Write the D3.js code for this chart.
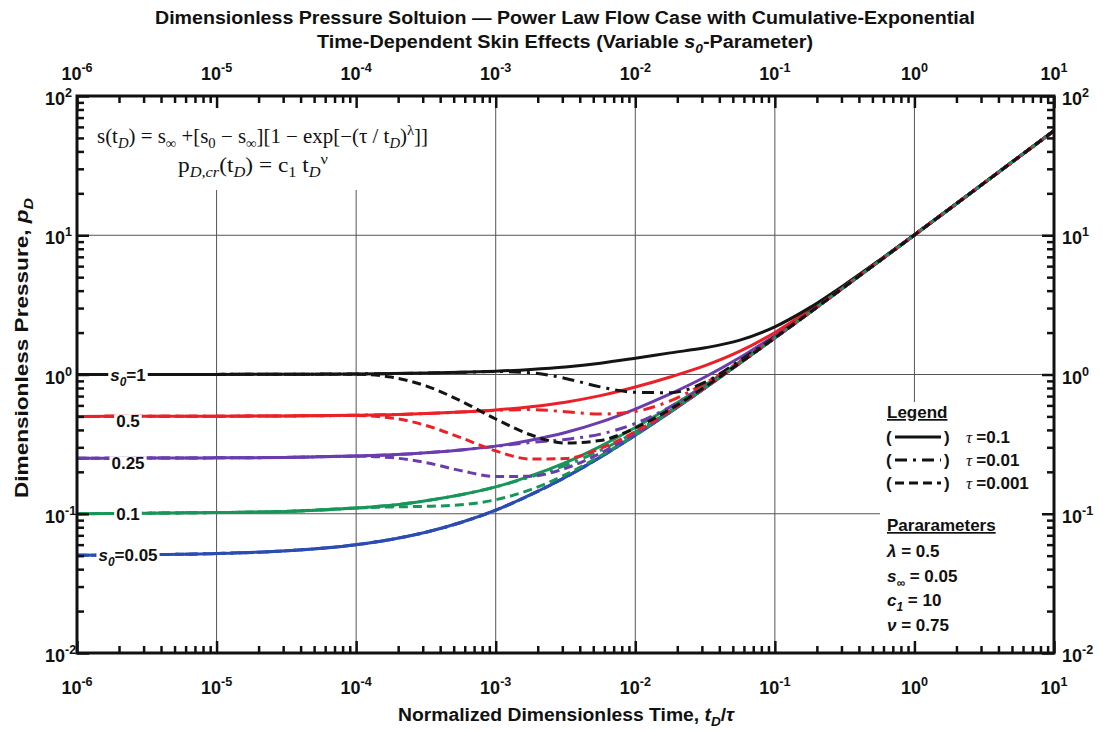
<!DOCTYPE html>
<html>
<head>
<meta charset="utf-8">
<script src="https://cdn.jsdelivr.net/npm/d3@7"></script>
<style>
    body { margin: 0; background: #fff; }
    svg text { font-family: "Liberation Sans Narrow", "Arial Narrow", "Liberation Sans", Arial, sans-serif; font-weight: bold; fill: #111; }
    svg text.serif { font-family: "Liberation Serif", "Times New Roman", serif; font-weight: normal; }
</style>
</head>
<body>
<svg id="chart" width="1103" height="730"></svg>
<script>
//sample points of t_D / tau (x axis)
const tD = [1e-6, 3.16e-6, 1e-5, 3.16e-5, 1e-4, 1.78e-4, 3.16e-4, 5.62e-4, 1e-3, 1.78e-3, 3.16e-3, 5.62e-3,
    1e-2, 1.78e-2, 3.16e-2, 5.62e-2, 0.1, 0.178, 0.316, 0.562, 1, 1.78, 3.16, 5.62, 10]

//s0 = 0.05 (same for every tau)
const pBlue = [0.0503, 0.0508, 0.0518, 0.0542, 0.060, 0.0654, 0.0737, 0.0865, 0.106, 0.137, 0.183, 0.255,
    0.366, 0.537, 0.80, 1.21, 1.83, 2.79, 4.27, 6.54, 10.05, 15.45, 23.76, 36.57, 56.28]

//s0 = 1
const pBlackSolid = [1.0, 1.001, 1.002, 1.004, 1.01, 1.015, 1.024, 1.037, 1.056, 1.087, 1.133, 1.205,
    1.309, 1.43, 1.554, 1.765, 2.2, 3.02, 4.41, 6.63, 10.1, 15.48, 23.79, 36.59, 56.29]
const pBlackDashDot = [1.0, 1.001, 1.002, 1.004, 1.01, 1.015, 1.024, 1.037, 1.05, 1.03, 0.937, 0.815,
    0.745, 0.74, 0.88, 1.26, 1.86, 2.81, 4.28, 6.55, 10.05, 15.45, 23.76, 36.57, 56.28]
const pBlackDash = [1.0, 1.001, 1.002, 1.004, 1.004, 0.958, 0.828, 0.646, 0.479, 0.369, 0.322, 0.336,
    0.413, 0.563, 0.815, 1.213, 1.833, 2.79, 4.27, 6.54, 10.05, 15.45, 23.76, 36.57, 56.28]

//s0 = 0.5
const pRedSolid = [0.5, 0.501, 0.502, 0.504, 0.51, 0.515, 0.524, 0.537, 0.556, 0.587, 0.633, 0.705,
    0.813, 0.96, 1.157, 1.47, 2.005, 2.9, 4.33, 6.58, 10.07, 15.46, 23.77, 36.57, 56.28]
const pRedDashDot = [0.5, 0.501, 0.502, 0.504, 0.51, 0.515, 0.524, 0.537, 0.553, 0.56, 0.54, 0.52,
    0.543, 0.647, 0.866, 1.243, 1.85, 2.8, 4.27, 6.55, 10.05, 15.45, 23.76, 36.57, 56.28]
const pRedDash = [0.5, 0.501, 0.502, 0.504, 0.507, 0.488, 0.431, 0.352, 0.283, 0.247, 0.249, 0.294,
    0.388, 0.55, 0.807, 1.209, 1.83, 2.79, 4.27, 6.54, 10.05, 15.45, 23.76, 36.57, 56.28]

//s0 = 0.25
const pPurpleSolid = [0.25, 0.251, 0.252, 0.254, 0.26, 0.265, 0.274, 0.287, 0.306, 0.337, 0.383, 0.455,
    0.565, 0.725, 0.959, 1.323, 1.907, 2.84, 4.3, 6.56, 10.06, 15.46, 23.76, 36.57, 56.28]
const pPurpleDashDot = [0.25, 0.251, 0.252, 0.254, 0.26, 0.265, 0.274, 0.287, 0.305, 0.325, 0.342, 0.373,
    0.445, 0.586, 0.829, 1.222, 1.838, 2.79, 4.27, 6.55, 10.05, 15.45, 23.76, 36.57, 56.28]
const pPurpleDash = [0.25, 0.251, 0.252, 0.254, 0.259, 0.253, 0.233, 0.204, 0.185, 0.186, 0.212, 0.272,
    0.376, 0.543, 0.803, 1.207, 1.829, 2.79, 4.27, 6.54, 10.05, 15.45, 23.76, 36.57, 56.28]

//s0 = 0.1
const pGreenSolid = [0.1, 0.101, 0.102, 0.104, 0.11, 0.115, 0.124, 0.137, 0.156, 0.187, 0.233, 0.305,
    0.416, 0.584, 0.84, 1.234, 1.848, 2.8, 4.27, 6.55, 10.05, 15.45, 23.76, 36.57, 56.28]
const pGreenDashDot = [0.1, 0.101, 0.102, 0.104, 0.11, 0.115, 0.124, 0.137, 0.156, 0.184, 0.223, 0.285,
    0.386, 0.549, 0.807, 1.209, 1.83, 2.79, 4.27, 6.54, 10.05, 15.45, 23.76, 36.57, 56.28]
const pGreenDash = [0.1, 0.101, 0.102, 0.104, 0.11, 0.112, 0.113, 0.116, 0.126, 0.149, 0.191, 0.26,
    0.369, 0.54, 0.801, 1.206, 1.829, 2.79, 4.27, 6.54, 10.05, 15.45, 23.76, 36.57, 56.28]

//axis decades (exponents for the labels)
const xExponents = [-6, -5, -4, -3, -2, -1, 0, 1]
const yExponents = [-2, -1, 0, 1, 2]
const tauValues = ["0.1", "0.01", "0.001"]
const curveLabels = ["=1", "0.5", "0.25", "0.1", "=0.05"]
const paramLines = [["λ", "", " = 0.5"], ["s", "∞", " = 0.05"], ["c", "1", " = 10"], ["ν", "", " = 0.75"]]

const colors = {black: "#141414", red: "#ec2027", purple: "#6a3cae", green: "#17965a", blue: "#2b4db3"}
const dashes = {"0.1": null, "0.01": "12 6 3 6", "0.001": "9 5"}

const series = [
    {color: "blue", tau: "0.1", values: pBlue},
    {color: "green", tau: "0.1", values: pGreenSolid},
    {color: "purple", tau: "0.1", values: pPurpleSolid},
    {color: "red", tau: "0.1", values: pRedSolid},
    {color: "black", tau: "0.1", values: pBlackSolid},
    {color: "blue", tau: "0.01", values: pBlue},
    {color: "green", tau: "0.01", values: pGreenDashDot},
    {color: "purple", tau: "0.01", values: pPurpleDashDot},
    {color: "red", tau: "0.01", values: pRedDashDot},
    {color: "black", tau: "0.01", values: pBlackDashDot},
    {color: "blue", tau: "0.001", values: pBlue},
    {color: "green", tau: "0.001", values: pGreenDash},
    {color: "purple", tau: "0.001", values: pPurpleDash},
    {color: "red", tau: "0.001", values: pRedDash},
    {color: "black", tau: "0.001", values: pBlackDash}
]

const svg = d3.select("#chart")
const margin = {top: 96, right: 49, bottom: 77, left: 77}
const width = 1103 - margin.left - margin.right
const height = 730 - margin.top - margin.bottom

const x = d3.scaleLog().domain([1e-6, 10]).range([margin.left, margin.left + width])
const y = d3.scaleLog().domain([0.01, 100]).range([margin.top + height, margin.top])

const xMajor = xExponents.map(e => Math.pow(10, e))
const yMajor = yExponents.map(e => Math.pow(10, e))
const minorOf = majors => majors.slice(0, -1).flatMap(d => d3.range(2, 10).map(k => k * d))

//writes text pieces with sub / superscripts into a text element
//(empty pieces are skipped, chrome ignores dy on an empty tspan)
function rich(text, parts) {
    let shift = 0
    parts.filter(p => p[0] !== "").forEach(p => {
        const [str, kind, italic] = p
        const target = kind === "sub" ? 5 : kind === "sup" ? -8 : 0
        const ts = text.append("tspan").text(str).attr("dy", target - shift)
        if (kind) ts.style("font-size", "0.7em")
        if (italic) ts.style("font-style", "italic")
        shift = target
    })
    return text
}

//grid lines
const grid = svg.append("g").attr("stroke", "#555").attr("stroke-width", 1)
xMajor.slice(1, -1).forEach(v => {
    let top = y(100), bottom = y(0.01)
    if (v < 1e-3) top = margin.top + 94   //below the equations
    if (v === 1) bottom = margin.top + 306  //stops above the legend
    grid.append("line").attr("x1", x(v)).attr("x2", x(v)).attr("y1", top).attr("y2", bottom)
})
yMajor.slice(1, -1).forEach(v => {
    const right = v < 1 ? margin.left + 803 : x(10)
    grid.append("line").attr("x1", x(1e-6)).attr("x2", right).attr("y1", y(v)).attr("y2", y(v))
})

//curves
const line = d3.line()
    .x((d, i) => x(tD[i]))
    .y(d => y(d))
    .curve(d3.curveMonotoneX)

svg.append("g")
    .attr("fill", "none")
    .selectAll("path")
    .data(series)
    .enter()
    .append("path")
    .attr("d", d => line(d.values))
    .attr("stroke", d => colors[d.color])
    .attr("stroke-width", 3)
    .attr("stroke-dasharray", d => dashes[d.tau])

//curve labels with a white box behind them
const labelSeries = [pBlackSolid, pRedSolid, pPurpleSolid, pGreenSolid, pBlue]
const labelShift = [0, 5, 5, 0, 0]
labelSeries.forEach((vals, i) => {
    const g = svg.append("g")
    const t = g.append("text")
        .attr("x", margin.left + 51)
        .attr("y", y(vals[0]) + labelShift[i] + 6)
        .attr("text-anchor", "middle")
        .style("font-size", "17px")
    if (curveLabels[i].startsWith("=")) {
        rich(t, [["s", "", true], ["0", "sub", true], [curveLabels[i], ""]])
    } else {
        t.text(curveLabels[i])
    }
    const b = t.node().getBBox()
    g.insert("rect", "text")
        .attr("x", b.x - 2).attr("y", b.y + 2)
        .attr("width", b.width + 4).attr("height", b.height - 4)
        .attr("fill", "#fff")
})

//inside ticks on all four sides
const frame = svg.append("g").attr("class", "ticks")
function ticks(axis, values, size, transform) {
    const g = frame.append("g")
        .attr("transform", transform)
        .call(axis.tickValues(values).tickSize(size).tickFormat(""))
    g.select(".domain").remove()
    g.selectAll("line").attr("stroke", "#111").attr("stroke-width", 2.5)
}
ticks(d3.axisTop(x), minorOf(xMajor), 7, `translate(0,${y(0.01)})`)
ticks(d3.axisBottom(x), minorOf(xMajor), 7, `translate(0,${y(100)})`)
ticks(d3.axisRight(y), minorOf(yMajor), 7, `translate(${x(1e-6)},0)`)
ticks(d3.axisLeft(y), minorOf(yMajor), 7, `translate(${x(10)},0)`)
ticks(d3.axisTop(x), xMajor, 12, `translate(0,${y(0.01)})`)
ticks(d3.axisBottom(x), xMajor, 12, `translate(0,${y(100)})`)
ticks(d3.axisRight(y), yMajor, 12, `translate(${x(1e-6)},0)`)
ticks(d3.axisLeft(y), yMajor, 12, `translate(${x(10)},0)`)

svg.append("rect")
    .attr("x", x(1e-6)).attr("y", y(100))
    .attr("width", width).attr("height", height)
    .attr("fill", "none").attr("stroke", "#111").attr("stroke-width", 3)

//tick labels
xExponents.forEach(e => {
    [80, 694].forEach(base => {
        const t = svg.append("text").attr("x", x(Math.pow(10, e))).attr("y", base)
            .attr("text-anchor", "middle").style("font-size", "18px")
        rich(t, [["10", ""], [String(e), "sup"]])
    })
})
yExponents.forEach(e => {
    [45, 1062].forEach(left => {
        const t = svg.append("text").attr("x", left).attr("y", y(Math.pow(10, e)) + 9)
            .style("font-size", "18px")
        rich(t, [["10", ""], [String(e), "sup"]])
    })
})

//titles
svg.append("text").attr("x", 565).attr("y", 24).attr("text-anchor", "middle")
    .attr("textLength", 820).attr("lengthAdjust", "spacingAndGlyphs")
    .style("font-size", "18px")
    .text("Dimensionless Pressure Soltuion — Power Law Flow Case with Cumulative-Exponential")
rich(svg.append("text").attr("x", 565).attr("y", 48).attr("text-anchor", "middle")
    .attr("textLength", 496).attr("lengthAdjust", "spacingAndGlyphs")
    .style("font-size", "18px"),
    [["Time-Dependent Skin Effects (Variable ", ""], ["s", "", true], ["0", "sub", true], ["-Parameter)", ""]])

rich(svg.append("text").attr("x", 566).attr("y", 721).attr("text-anchor", "middle")
    .attr("textLength", 336).attr("lengthAdjust", "spacingAndGlyphs")
    .style("font-size", "18px"),
    [["Normalized Dimensionless Time, ", ""], ["t", "", true], ["D", "sub", true], ["/", ""], ["τ", "", true]])

rich(svg.append("text").attr("transform", "translate(28,348) rotate(-90)").attr("text-anchor", "middle")
    .attr("textLength", 300).attr("lengthAdjust", "spacingAndGlyphs")
    .style("font-size", "18px"),
    [["Dimensionless Pressure, ", ""], ["p", "", true], ["D", "sub", true]])

//equations
rich(svg.append("text").attr("class", "serif").attr("x", 97).attr("y", 143).style("font-size", "20px")
    .attr("textLength", 331).attr("lengthAdjust", "spacingAndGlyphs"),
    [["s(t", ""], ["D", "sub", true], [") = s", ""], ["∞", "sub"], [" +[s", ""], ["0", "sub"], [" − s", ""], ["∞", "sub"],
     ["][1 − exp[−(τ / t", ""], ["D", "sub", true], [")", ""], ["λ", "sup"], ["]]", ""]])
rich(svg.append("text").attr("class", "serif").attr("x", 178).attr("y", 172).style("font-size", "20px")
    .attr("textLength", 150).attr("lengthAdjust", "spacingAndGlyphs"),
    [["p", ""], ["D,cr", "sub", true], ["(t", ""], ["D", "sub", true], [") = c", ""], ["1", "sub"], [" t", ""], ["D", "sub", true], ["ν", "sup"]])

//legend
const legend = svg.append("g").style("font-size", "17px")
legend.append("text").attr("x", 887).attr("y", 418).style("text-decoration", "underline").text("Legend")
tauValues.forEach((tau, i) => {
    const base = 443 + i * 23
    legend.append("text").attr("x", 886).attr("y", base).text("(")
    legend.append("text").attr("x", 944).attr("y", base).text(")")
    legend.append("line")
        .attr("x1", 895).attr("x2", 941).attr("y1", base - 6).attr("y2", base - 6)
        .attr("stroke", "#111").attr("stroke-width", 3)
        .attr("stroke-dasharray", dashes[tau])
    const t = legend.append("text").attr("x", 966).attr("y", base)
    t.append("tspan").attr("class", "serif").style("font-style", "italic")
        .style("font-family", "'Liberation Serif', serif").style("font-weight", "normal").text("τ ")
    t.append("tspan").text("=" + tau)
})
legend.append("text").attr("x", 887).attr("y", 531).style("text-decoration", "underline").text("Pararameters")
paramLines.forEach((p, i) => {
    const t = legend.append("text").attr("x", 887).attr("y", 557 + i * 24.5)
    rich(t, [[p[0], "", true], [p[1], "sub", true], [p[2], ""]])
})
</script>
</body>
</html>
